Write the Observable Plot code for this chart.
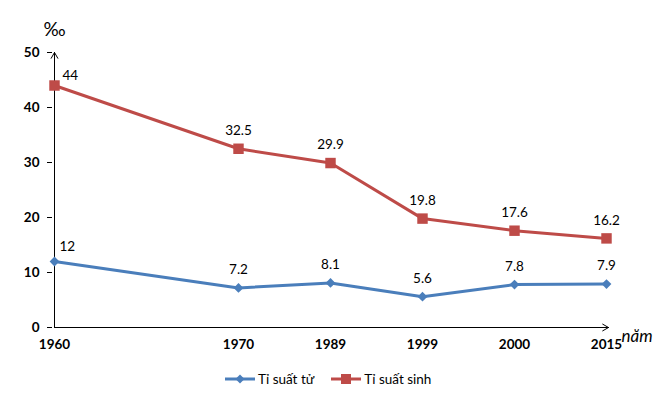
<!DOCTYPE html>
<html>
<head>
<meta charset="utf-8">
<script src="https://cdn.jsdelivr.net/npm/d3@7"></script>
<script src="https://cdn.jsdelivr.net/npm/@observablehq/plot@0.6"></script>
<style>
  body { margin: 0; background: #fff; font-family: Lato, sans-serif; }
  #legend { display: flex; align-items: center; height: 33px; padding-left: 225px; font: 13.5px Lato, sans-serif; color: #000; }
  #legend .item { display: flex; align-items: center; margin-right: 17px; }
  #legend svg { margin-right: 3px; }
</style>
</head>
<body>
<div id="chart"></div>
<div id="legend"></div>
<script>
const years = ["1960", "1970", "1989", "1999", "2000", "2015"];
// x slots: an empty slot sits between 1960 and 1970 in the original layout
const xSlots = ["1960", " ", "1970", "1989", "1999", "2000", "2015"];
const deathRate = [12, 7.2, 8.1, 5.6, 7.8, 7.9];
const birthRate = [44, 32.5, 29.9, 19.8, 17.6, 16.2];
const yTicks = [0, 10, 20, 30, 40, 50];
const seriesNames = ["Tỉ suất tử", "Tỉ suất sinh"];

const blue = "#4A7EBB";
const red = "#BE4B48";

const rows = years.map((y, i) => ({year: y, death: deathRate[i], birth: birthRate[i]}));
const firstRow = rows.slice(0, 1);
const restRows = rows.slice(1);

const chart = Plot.plot({
  width: 669,
  height: 362,
  marginTop: 52,
  marginBottom: 35,
  marginLeft: 52,
  marginRight: 61,
  style: {fontFamily: "Lato, sans-serif", fontSize: "13px", color: "#000", background: "#fff"},
  x: {type: "point", domain: xSlots, padding: 0},
  y: {domain: [0, 50]},
  marks: [
    Plot.axisY({ticks: yTicks, tickSize: 5, tickPadding: 8, fontWeight: "bold", fontSize: 13.5, label: null}),
    Plot.axisX({ticks: years, tickSize: 0, tickPadding: 12, fontWeight: "bold", fontSize: 13.5, label: null}),
    Plot.arrow([0], {x1: () => "1960", y1: 0, x2: () => "1960", y2: 50, stroke: "#000", strokeWidth: 1, headLength: 10, headAngle: 60}),
    Plot.arrow([0], {x1: () => "1960", y1: 0, x2: () => "2015", y2: 0, stroke: "#000", strokeWidth: 1, headLength: 10, headAngle: 60, insetEnd: -2}),
    Plot.text([0], {x: () => "1960", y: 50, text: () => "‰", dy: -23, fontSize: 19}),
    Plot.text([0], {x: () => "2015", y: 0, text: () => "năm", dx: 15, dy: 9, textAnchor: "start", fontStyle: "italic", fontSize: 17}),
    Plot.line(rows, {x: "year", y: "birth", stroke: red, strokeWidth: 3}),
    Plot.line(rows, {x: "year", y: "death", stroke: blue, strokeWidth: 3}),
    Plot.dot(rows, {x: "year", y: "birth", symbol: "square", r: 5.9, fill: red}),
    Plot.dot(rows, {x: "year", y: "death", symbol: "diamond2", r: 4.4, fill: blue}),
    Plot.text(firstRow, {x: "year", y: "birth", text: d => String(d.birth), dx: 8, dy: -10, textAnchor: "start", fontSize: 13.5}),
    Plot.text(firstRow, {x: "year", y: "death", text: d => String(d.death), dx: 5, dy: -15, textAnchor: "start", fontSize: 13.5}),
    Plot.text(restRows, {x: "year", y: "birth", text: d => String(d.birth), dy: -18, fontSize: 13.5}),
    Plot.text(restRows, {x: "year", y: "death", text: d => String(d.death), dy: -18, fontSize: 13.5})
  ]
});
document.getElementById("chart").appendChild(chart);

const legend = document.getElementById("legend");
const legendDefs = [
  {name: seriesNames[0], color: blue, marker: "diamond"},
  {name: seriesNames[1], color: red, marker: "square"}
];
for (const d of legendDefs) {
  const item = document.createElement("div");
  item.className = "item";
  const markerSvg = d.marker === "diamond"
    ? `<polygon points="15,1.5 19.5,6 15,10.5 10.5,6" fill="${d.color}"/>`
    : `<rect x="10" y="1" width="10" height="10" fill="${d.color}"/>`;
  item.innerHTML = `<svg width="30" height="12"><line x1="0" y1="6" x2="30" y2="6" stroke="${d.color}" stroke-width="3"/>${markerSvg}</svg><span>${d.name}</span>`;
  legend.appendChild(item);
}
</script>
</body>
</html>
